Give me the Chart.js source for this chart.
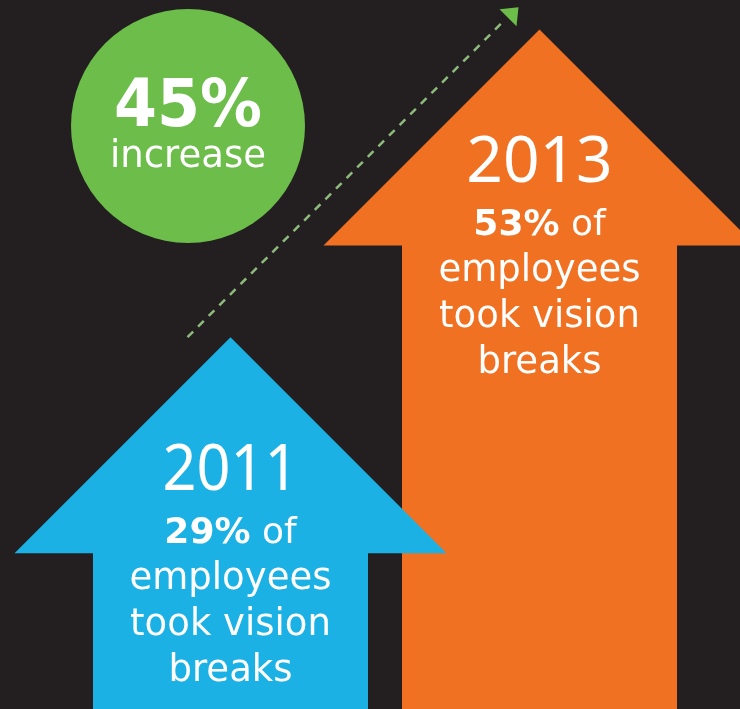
<!DOCTYPE html>
<html>
<head>
<meta charset="utf-8">
<script src="https://cdn.jsdelivr.net/npm/chart.js@4"></script>
<style>
  html, body { margin: 0; padding: 0; background: #231f20; }
  canvas { display: block; }
</style>
</head>
<body>
<canvas id="breaksChart" width="740" height="709"></canvas>
<script>
// Data
const years = ['2011', '2013'];
const shares = [29, 53];                 // % of employees taking vision breaks
const captionLines = ['employees', 'took vision', 'breaks'];
const increaseLines = ['45%', 'increase'];
const arrowColors = ['#1cb1e4', '#f17122'];

const BG = '#231f20';
const GREEN = '#6cbd4a';
const HEAD = 216;   // half width (and height) of the arrow head

// background fill
const background = {
  id: 'background',
  beforeDraw(chart) {
    const ctx = chart.ctx;
    ctx.save();
    ctx.fillStyle = BG;
    ctx.fillRect(0, 0, chart.width, chart.height);
    ctx.restore();
  }
};

function arrowPath(ctx, bar) {
  const half = bar.width / 2;
  const x = bar.x, tip = bar.y, base = bar.base;
  ctx.beginPath();
  ctx.moveTo(x, tip);
  ctx.lineTo(x + HEAD, tip + HEAD);
  ctx.lineTo(x + half, tip + HEAD);
  ctx.lineTo(x + half, base);
  ctx.lineTo(x - half, base);
  ctx.lineTo(x - half, tip + HEAD);
  ctx.lineTo(x - HEAD, tip + HEAD);
  ctx.closePath();
}

function drawLabel(ctx, bar, i) {
  const x = bar.x, tip = bar.y;
  ctx.fillStyle = '#ffffff';
  ctx.textBaseline = 'alphabetic';
  ctx.textAlign = 'center';

  ctx.font = '400 64px "Noto Sans"';
  ctx.fillText(years[i], x, tip + 153, i === 0 ? 136 : 157);

  // "29% of" : bold value, regular rest
  const pct = shares[i] + '%';
  const rest = ' of';
  ctx.font = 'bold 36px "DejaVu Sans"';
  const w1 = ctx.measureText(pct).width;
  ctx.font = '400 36px "DejaVu Sans"';
  const w2 = ctx.measureText(rest).width;
  const scale = Math.min(1, 136 / (w1 + w2));
  ctx.save();
  ctx.translate(x, tip + 206);
  ctx.scale(scale, 1);
  ctx.textAlign = 'left';
  const start = -(w1 + w2) / 2;
  ctx.font = 'bold 36px "DejaVu Sans"';
  ctx.fillText(pct, start, 0);
  ctx.font = '400 36px "DejaVu Sans"';
  ctx.fillText(rest, start + w1, 0);
  ctx.restore();

  ctx.font = '400 37px "DejaVu Sans"';
  const offs = [252, 298, 344];
  captionLines.forEach((line, k) => {
    ctx.fillText(line, x, tip + offs[k], 214);
  });
}

// arrows, trend line and the increase badge
const arrows = {
  id: 'arrows',
  afterDatasetsDraw(chart) {
    const ctx = chart.ctx;
    const bars = chart.getDatasetMeta(0).data;
    ctx.save();

    // dashed trend line from the 2011 tip up to the 2013 tip
    const a = bars[0], b = bars[bars.length - 1];
    const x0 = a.x - 43, y0 = a.y;
    const x1 = b.x - 34, y1 = y0 - (x1 - x0);
    ctx.strokeStyle = '#8dbb7c';
    ctx.lineWidth = 2.5;
    ctx.setLineDash([8, 7]);
    ctx.beginPath();
    ctx.moveTo(x0, y0);
    ctx.lineTo(x1, y1);
    ctx.stroke();
    ctx.setLineDash([]);
    ctx.fillStyle = GREEN;
    ctx.beginPath();
    ctx.moveTo(x1 - 6, y1 - 10);
    ctx.lineTo(x1 + 13, y1 - 12);
    ctx.lineTo(x1 + 11, y1 + 7);
    ctx.closePath();
    ctx.fill();

    // later years first so the earlier arrow sits on top
    for (let i = bars.length - 1; i >= 0; i--) {
      ctx.fillStyle = arrowColors[i];
      arrowPath(ctx, bars[i]);
      ctx.fill();
      drawLabel(ctx, bars[i], i);
    }

    // badge
    ctx.fillStyle = GREEN;
    ctx.beginPath();
    ctx.arc(188, 126, 117, 0, Math.PI * 2);
    ctx.fill();
    ctx.fillStyle = '#ffffff';
    ctx.textAlign = 'center';
    ctx.font = 'bold 66px "DejaVu Sans"';
    ctx.fillText(increaseLines[0], 188, 126, 148);
    ctx.font = '400 37px "DejaVu Sans"';
    ctx.fillText(increaseLines[1], 188, 167, 161);

    ctx.restore();
  }
};

new Chart(document.getElementById('breaksChart').getContext('2d'), {
  type: 'bar',
  data: {
    labels: years,
    datasets: [{
      data: shares,
      backgroundColor: 'rgba(0,0,0,0)',
      barThickness: 275
    }]
  },
  options: {
    responsive: false,
    animation: false,
    layout: { padding: { left: 76, right: 46, top: 0, bottom: 0 } },
    scales: {
      x: { display: false },
      y: { display: false, min: 0, max: 55.3 }
    },
    plugins: {
      legend: { display: false },
      tooltip: { enabled: false }
    }
  },
  plugins: [background, arrows]
});
</script>
</body>
</html>
